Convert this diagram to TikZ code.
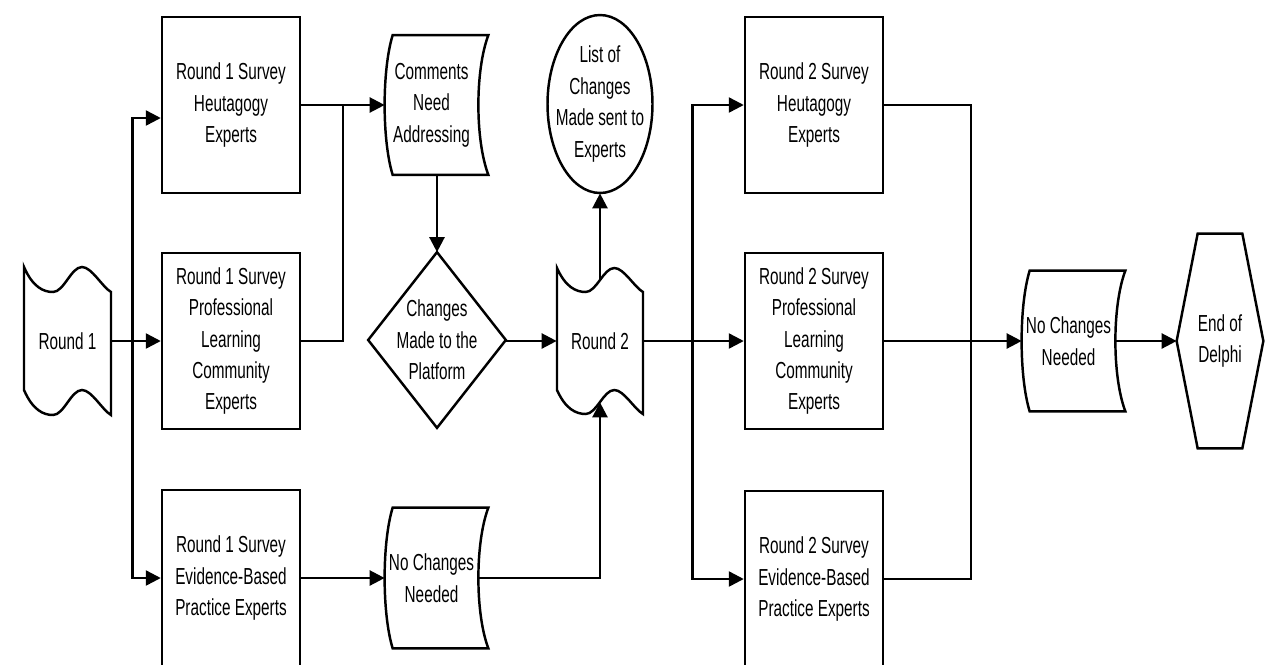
\documentclass[tikz,border=0pt]{standalone}
\usepackage{fontspec}
\setmainfont[FakeStretch=0.66]{Liberation Sans}
\usetikzlibrary{arrows.meta,calc,shapes.geometric}
\newcommand\pxu{0.02cm}
\newcommand\tapeoutline[5]{%
 \draw[outline] (#1,#2) .. controls ({#1+#3/10},{#2+0.8*#5}) and ({#1+#3/3-#3/9},{#2+#5}) .. ({#1+#3/3},{#2+#5})
 .. controls ({#1+#3/3+#3/8},{#2+#5}) and ({#1+2*#3/3-#3/8},{#2}) .. ({#1+2*#3/3},{#2})
 .. controls ({#1+2*#3/3+#3/9},{#2}) and ({#1+#3-#3/10},{#2+0.8*#5}) .. ({#1+#3},{#2+#5})
 -- ({#1+#3},{#2+#4+#5})
 .. controls ({#1+#3-#3/10},{#2+#4+0.8*#5}) and ({#1+2*#3/3+#3/9},{#2+#4}) .. ({#1+2*#3/3},{#2+#4})
 .. controls ({#1+2*#3/3-#3/8},{#2+#4}) and ({#1+#3/3+#3/8},{#2+#4+#5}) .. ({#1+#3/3},{#2+#4+#5})
 .. controls ({#1+#3/3-#3/9},{#2+#4+#5}) and ({#1+#3/10},{#2+#4+0.8*#5}) .. ({#1},{#2+#4})
 -- cycle;}
\newcommand\docshape[1]{%
 \draw[outline] ($(#1.north west)+(8,0)$) -- ($(#1.north east)+(10,0)$)
 .. controls ($(#1.north east)+(-3.3,35)$) and ($(#1.south east)+(-3.3,-35)$) .. ($(#1.south east)+(10,0)$)
 -- ($(#1.south west)+(8,0)$)
 .. controls ($(#1.south west)+(-2.7,-35)$) and ($(#1.north west)+(-2.7,35)$) .. cycle;}
\tikzset{
 outline/.style={line width=1.4pt, line join=miter},
 txt/.style={font=\fontsize{13.2}{17.9}\selectfont, align=center, inner sep=0pt},
 box/.style={txt, draw, line width=1.4pt, minimum width={138*\pxu}, minimum height={176*\pxu}},
 free/.style={txt, draw=none},
 arr/.style={line width=1.4pt, -{Triangle[length=0.3cm,width=0.3cm]}},
 ln/.style={line width=1.4pt}
}
\begin{document}
\begin{tikzpicture}[x=0.02cm,y=-0.02cm]
\useasboundingbox (0,0) rectangle (1275,664);
\fill[white] (0,0) rectangle (1275,664);
% nodes
\node[free, minimum width={87*\pxu}, minimum height={123*\pxu}] (r1) at (67.5,341) {Round 1};
\node[box] (b1) at (231,105) {Round 1 Survey\\Heutagogy\\Experts};
\node[box] (b2) at (231,341) {Round 1 Survey\\Professional\\Learning\\Community\\Experts};
\node[box] (b3) at (231,578) {Round 1 Survey\\Evidence-Based\\Practice Experts};
\node[free, minimum width={93*\pxu}, minimum height={139*\pxu}] (comm) at (431.5,105) {Comments\\Need\\Addressing};
\node[free, minimum width={137*\pxu}, minimum height={175*\pxu}] (dia) at (437,340) {Changes\\Made to the\\Platform};
\node[free, minimum width={93*\pxu}, minimum height={140*\pxu}] (nc1) at (431.5,578) {No Changes\\Needed};
\node[free, minimum width={86*\pxu}, minimum height={122*\pxu}] (r2) at (600,341) {Round 2};
\node[free, minimum width={105*\pxu}, minimum height={178*\pxu}] (ell) at (600,104) {List of\\Changes\\Made sent to\\Experts};
\node[box] (b4) at (814,105) {Round 2 Survey\\Heutagogy\\Experts};
\node[box] (b5) at (814,341) {Round 2 Survey\\Professional\\Learning\\Community\\Experts};
\node[box] (b6) at (814,579) {Round 2 Survey\\Evidence-Based\\Practice Experts};
\node[free, minimum width={93*\pxu}, minimum height={140*\pxu}] (nc2) at (1068.5,341) {No Changes\\Needed};
\node[free, minimum width={86*\pxu}, minimum height={214*\pxu}] (hex) at (1220,341) {End of\\Delphi};
% outlines
\tapeoutline{24}{267}{87}{123}{25}
\tapeoutline{557}{268}{86}{122}{24}
\docshape{comm}
\docshape{nc1}
\docshape{nc2}
\draw[outline] (dia.north) -- (dia.east) -- (dia.south) -- (dia.west) -- cycle;
\draw[outline] (ell.center) ellipse [x radius=1.05cm, y radius=1.78cm];
\draw[outline] (hex.west) -- ($(hex.north west)+(21,0)$) -- ($(hex.north east)+(-21,0)$) -- (hex.east)
 -- ($(hex.south east)+(-21,0)$) -- ($(hex.south west)+(21,0)$) -- cycle;
% junctions
\coordinate (j1) at ($(r1.east)!0.43!(b2.west)$);
\coordinate (j2) at ($(b1.east)!0.5!(comm.west)$);
\coordinate (j3) at ($(r2.east)!0.49!(b5.west)$);
\coordinate (j4) at ($(b5.east)!0.63!(nc2.west)$);
% connectors
\draw[arr] (r1.east) -- (b2.west);
\draw[arr] (j1) |- ($(b1.west)+(0,13)$);
\draw[arr] (j1) |- (b3.west);
\draw[arr] (b1.east) -- (comm.west);
\draw[ln] (b2.east) -| (j2);
\draw[arr] (comm.south -| dia.north) -- (dia.north);
\draw[arr] (dia.east |- r2.west) -- (r2.west);
\draw[arr] (r2.north) -- (ell.south);
\draw[arr] (b3.east) -- (nc1.west);
\draw[arr] (nc1.east) -| (r2.south);
\draw[arr] (r2.east) -- (b5.west);
\draw[arr] (j3) |- (b4.west);
\draw[arr] (j3) |- (b6.west);
\draw[ln] (b4.east) -| (j4) |- (b6.east);
\draw[arr] (b5.east) -- (nc2.west);
\draw[arr] (nc2.east) -- (hex.west);
\end{tikzpicture}
\end{document}
